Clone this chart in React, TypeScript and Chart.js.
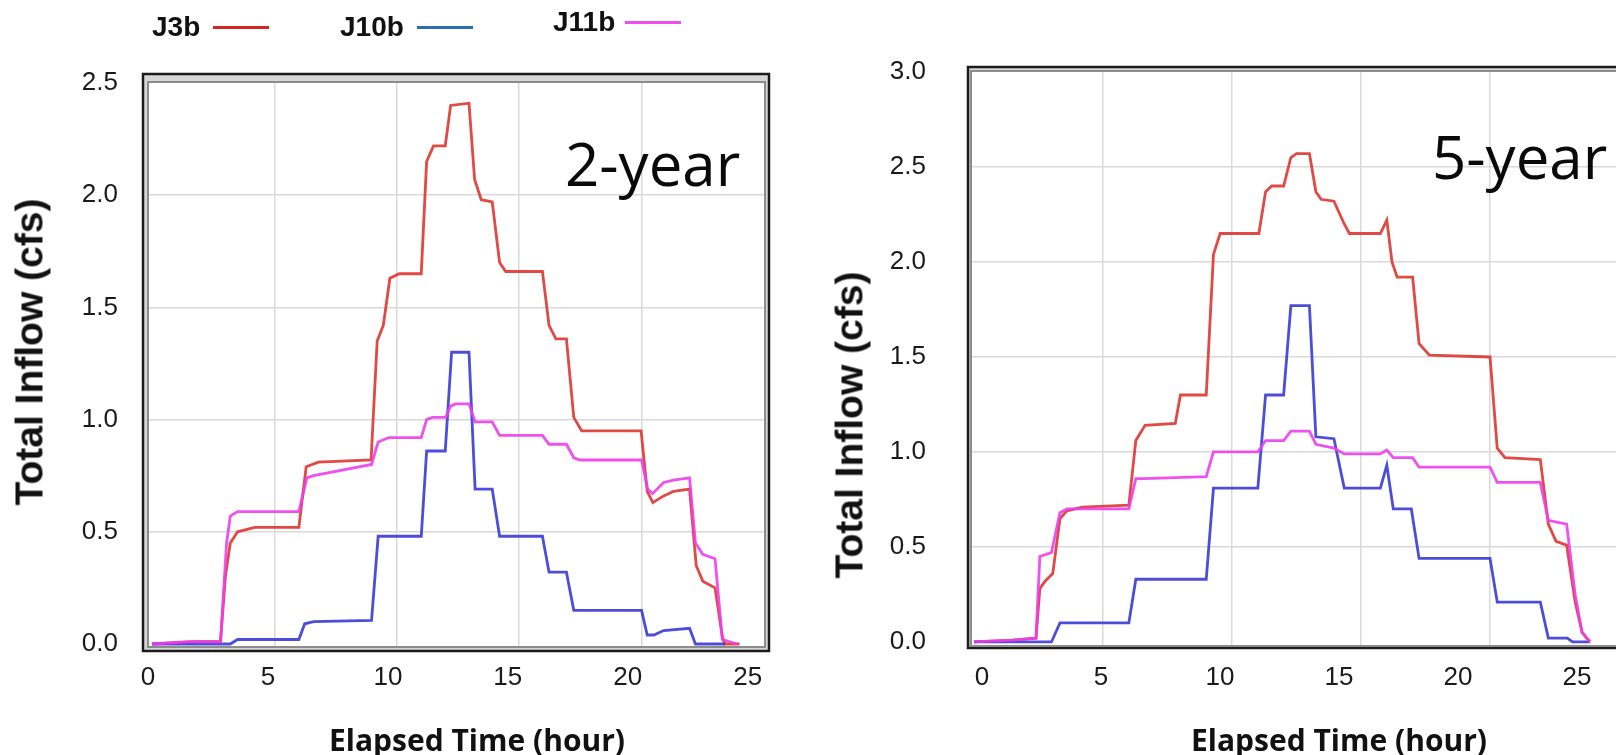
import React, { useEffect, useRef } from "react";
import { Chart, registerables } from "chart.js";

Chart.register(...registerables);

// ---------- 2-year event (hours / cfs) ----------
const t2J3b = [0, 1.8, 2.8, 3.0, 3.2, 3.5, 4.2, 6.0, 6.3, 6.8, 8.95, 9.2, 9.45, 9.72, 10.1, 11.0, 11.22, 11.5, 11.98, 12.2, 12.95, 13.18, 13.45, 13.9, 14.2, 14.45, 15.95, 16.22, 16.5, 16.93, 17.23, 17.55, 19.98, 20.23, 20.46, 20.9, 21.3, 21.96, 22.23, 22.5, 23.0, 23.3, 23.4, 24.0];
const q2J3b = [0, 0.01, 0.01, 0.3, 0.45, 0.5, 0.52, 0.52, 0.79, 0.81, 0.82, 1.35, 1.42, 1.63, 1.65, 1.65, 2.15, 2.22, 2.22, 2.4, 2.41, 2.07, 1.98, 1.97, 1.7, 1.66, 1.66, 1.42, 1.36, 1.36, 1.01, 0.95, 0.95, 0.68, 0.63, 0.66, 0.68, 0.69, 0.35, 0.28, 0.25, 0.03, 0, 0];

const t2J10b = [0, 3.2, 3.5, 6.0, 6.24, 6.6, 8.97, 9.24, 11.0, 11.22, 11.98, 12.24, 12.95, 13.2, 13.9, 14.2, 15.95, 16.22, 16.93, 17.23, 20.0, 20.23, 20.5, 20.9, 21.96, 22.2, 23.4];
const q2J10b = [0, 0, 0.02, 0.02, 0.09, 0.1, 0.105, 0.48, 0.48, 0.86, 0.86, 1.3, 1.3, 0.69, 0.69, 0.48, 0.48, 0.32, 0.32, 0.15, 0.15, 0.04, 0.04, 0.06, 0.07, 0, 0];

const t2J11b = [0, 1.5, 2.8, 3.05, 3.2, 3.5, 6.0, 6.33, 6.6, 8.97, 9.24, 9.68, 11.0, 11.22, 11.45, 12.0, 12.2, 12.4, 12.95, 13.2, 13.9, 14.2, 15.95, 16.22, 16.93, 17.23, 17.5, 20.0, 20.25, 20.45, 20.9, 21.3, 21.96, 22.2, 22.5, 23.0, 23.3, 23.9];
const q2J11b = [0, 0.01, 0.01, 0.45, 0.57, 0.59, 0.59, 0.74, 0.75, 0.8, 0.9, 0.92, 0.92, 1.0, 1.01, 1.01, 1.06, 1.07, 1.07, 0.99, 0.99, 0.93, 0.93, 0.89, 0.89, 0.83, 0.82, 0.82, 0.69, 0.67, 0.72, 0.73, 0.74, 0.45, 0.4, 0.38, 0.02, 0];

// ---------- 5-year event (hours / cfs) ----------
const t5J3b = [0, 1.5, 2.4, 2.55, 2.75, 3.05, 3.33, 3.6, 4.2, 6.0, 6.27, 6.63, 7.8, 8.0, 9.0, 9.28, 9.54, 11.04, 11.3, 11.54, 12.0, 12.28, 12.5, 13.0, 13.25, 13.45, 13.95, 14.35, 14.55, 15.75, 16.0, 16.2, 16.4, 17.0, 17.25, 17.65, 20.0, 20.28, 20.58, 21.95, 22.26, 22.56, 22.97, 23.3, 23.57, 23.87];
const q5J3b = [0, 0.01, 0.02, 0.28, 0.32, 0.36, 0.65, 0.69, 0.71, 0.72, 1.06, 1.14, 1.15, 1.3, 1.3, 2.04, 2.15, 2.15, 2.37, 2.4, 2.4, 2.55, 2.57, 2.57, 2.37, 2.33, 2.32, 2.2, 2.15, 2.15, 2.22, 2.0, 1.92, 1.92, 1.57, 1.51, 1.5, 1.02, 0.97, 0.96, 0.62, 0.53, 0.51, 0.21, 0.05, 0];

const t5J10b = [0, 3.0, 3.33, 6.0, 6.27, 9.0, 9.28, 11.0, 11.3, 12.0, 12.28, 13.0, 13.25, 13.95, 14.35, 15.75, 16.0, 16.25, 16.95, 17.25, 20.0, 20.28, 21.95, 22.26, 23.0, 23.2, 23.87];
const q5J10b = [0, 0, 0.1, 0.1, 0.33, 0.33, 0.81, 0.81, 1.3, 1.3, 1.77, 1.77, 1.08, 1.07, 0.81, 0.81, 0.93, 0.7, 0.7, 0.44, 0.44, 0.21, 0.21, 0.02, 0.02, 0, 0];

const t5J11b = [0, 1.5, 2.4, 2.55, 3.0, 3.33, 3.6, 6.0, 6.27, 6.6, 9.0, 9.28, 11.0, 11.3, 12.0, 12.28, 13.0, 13.25, 13.95, 14.35, 15.75, 16.0, 16.25, 17.0, 17.25, 20.0, 20.28, 21.95, 22.26, 22.97, 23.3, 23.57, 23.87];
const q5J11b = [0, 0.01, 0.02, 0.45, 0.47, 0.68, 0.7, 0.7, 0.86, 0.86, 0.87, 1.0, 1.0, 1.06, 1.06, 1.11, 1.11, 1.04, 1.02, 0.99, 0.99, 1.01, 0.97, 0.97, 0.92, 0.92, 0.84, 0.84, 0.64, 0.62, 0.25, 0.05, 0];

// ---------- ticks / labels ----------
const xTicks = [0, 5, 10, 15, 20, 25];
const yTicks2 = [0, 0.5, 1.0, 1.5, 2.0, 2.5];
const yTicks5 = [0, 0.5, 1.0, 1.5, 2.0, 2.5, 3.0];
const seriesNames = ["J3b", "J10b", "J11b"];
const panelTitles = ["2-year", "5-year"];
const xTitle = "Elapsed Time (hour)";
const yTitle = "Total Inflow (cfs)";

const lineColors = ["rgba(222,58,52,0.92)", "rgba(52,52,212,0.88)", "rgba(236,62,236,0.9)"];
const legendColors = ["#d42424", "#2b6fb3", "#f04cf0"];

const framePlugin = {
  id: "frame",
  beforeDatasetsDraw(chart: any, _args: any, opts: any) {
    const { ctx, chartArea: a } = chart;
    const o = opts.outer;
    const x0 = a.left - o.l;
    const y0 = a.top - o.t;
    const x1 = a.right + o.r;
    const y1 = a.bottom + o.b;
    ctx.save();
    ctx.fillStyle = "#d6d6d6";
    ctx.beginPath();
    ctx.rect(x0, y0, x1 - x0, y1 - y0);
    ctx.rect(a.left, a.top, a.right - a.left, a.bottom - a.top);
    ctx.fill("evenodd");
    ctx.lineWidth = 2.5;
    ctx.strokeStyle = "#1c1c1c";
    ctx.strokeRect(x0 + 1, y0 + 1, x1 - x0 - 2, y1 - y0 - 2);
    ctx.lineWidth = 2;
    ctx.strokeStyle = "#8c8c8c";
    ctx.strokeRect(a.left - 1, a.top - 1, a.right - a.left + 2, a.bottom - a.top + 2);
    ctx.restore();
  },
};

const tickFont = { family: "'Liberation Sans', Arial, sans-serif", size: 26 };

type Series = { label: string; t: number[]; q: number[]; color: string; order: number };

type PanelProps = {
  pageLeft: number;
  width: number;
  series: Series[];
  xMin: number;
  xMax: number;
  labelMin: number;
  labelMax: number;
  yMin: number;
  yMax: number;
  yTicks: number[];
  yAxisW: number;
  padTop: number;
  padRight: number;
  xAxisH: number;
  yTickPad: number;
  xTickPad: number;
  frame: { l: number; t: number; r: number; b: number };
};

function FlowPanel(p: PanelProps) {
  const ref = useRef<HTMLCanvasElement | null>(null);
  useEffect(() => {
    if (!ref.current) return;
    const chart = new Chart(ref.current, {
      type: "line",
      data: {
        datasets: p.series.map((s) => ({
          label: s.label,
          data: s.t.map((t, i) => ({ x: t, y: s.q[i] })),
          borderColor: s.color,
          backgroundColor: s.color,
          borderWidth: 2.8,
          pointRadius: 0,
          tension: 0,
          fill: false,
          order: s.order,
          xAxisID: "x",
          yAxisID: "y",
        })),
      },
      options: {
        animation: false,
        responsive: false,
        maintainAspectRatio: false,
        layout: { padding: { left: 0, top: p.padTop, right: p.padRight, bottom: 0 } },
        plugins: {
          legend: { display: false },
          tooltip: { enabled: false },
          frame: { outer: p.frame },
        } as any,
        scales: {
          x: {
            type: "linear",
            position: "bottom",
            min: p.xMin,
            max: p.xMax,
            afterBuildTicks: (s: any) => {
              s.ticks = xTicks.map((v) => ({ value: v }));
            },
            afterFit: (s: any) => {
              s.height = 0;
            },
            grid: {
              drawTicks: false,
              lineWidth: 1.5,
              color: (c: any) =>
                c.tick && (c.tick.value === xTicks[0] || c.tick.value === xTicks[xTicks.length - 1])
                  ? "rgba(0,0,0,0)"
                  : "#d9d9d9",
            },
            border: { display: false },
            ticks: { display: false },
          },
          xLabels: {
            type: "linear",
            position: "bottom",
            min: p.labelMin,
            max: p.labelMax,
            afterBuildTicks: (s: any) => {
              s.ticks = xTicks.map((v) => ({ value: v }));
            },
            afterFit: (s: any) => {
              s.height = p.xAxisH;
            },
            grid: { display: false, drawTicks: false },
            border: { display: false },
            ticks: {
              padding: p.xTickPad,
              font: tickFont,
              color: "#1a1a1a",
              maxRotation: 0,
              autoSkip: false,
              callback: (v: any) => String(v),
            },
          },
          y: {
            type: "linear",
            min: p.yMin,
            max: p.yMax,
            afterBuildTicks: (s: any) => {
              s.ticks = p.yTicks.map((v) => ({ value: v }));
            },
            afterFit: (s: any) => {
              s.width = p.yAxisW;
            },
            grid: {
              drawTicks: false,
              lineWidth: 1.5,
              color: (c: any) =>
                c.tick && (c.tick.value === p.yTicks[0] || c.tick.value === p.yTicks[p.yTicks.length - 1])
                  ? "rgba(0,0,0,0)"
                  : "#d9d9d9",
            },
            border: { display: false },
            ticks: {
              padding: p.yTickPad,
              font: tickFont,
              color: "#1a1a1a",
              autoSkip: false,
              callback: (v: any) => Number(v).toFixed(1),
            },
          },
        } as any,
      },
      plugins: [framePlugin as any],
    });
    return () => chart.destroy();
  }, []);
  return (
    <canvas
      ref={ref}
      width={p.width}
      height={755}
      style={{ position: "absolute", left: p.pageLeft, top: 0, width: p.width, height: 755 }}
    />
  );
}

const legendFont: React.CSSProperties = {
  position: "absolute",
  fontFamily: "'Liberation Sans', Arial, sans-serif",
  fontWeight: 700,
  fontSize: 28,
  lineHeight: "28px",
  color: "#111",
  whiteSpace: "nowrap",
};

function LegendItem({ name, color, textLeft, lineLeft, cy }: { name: string; color: string; textLeft: number; lineLeft: number; cy: number }) {
  return (
    <>
      <div style={{ ...legendFont, left: textLeft, top: cy - 14 }}>{name}</div>
      <div style={{ position: "absolute", left: lineLeft, top: cy - 1.5, width: 56, height: 3, background: color }} />
    </>
  );
}

const axisTitleY: React.CSSProperties = {
  position: "absolute",
  fontFamily: "'Liberation Sans', Arial, sans-serif",
  fontWeight: 700,
  fontSize: 39,
  lineHeight: "39px",
  color: "#111",
  whiteSpace: "nowrap",
  transform: "translate(-50%, -50%) rotate(-90deg)",
};

const axisTitleX: React.CSSProperties = {
  position: "absolute",
  fontFamily: "'Open Sans', 'Noto Sans', sans-serif",
  fontWeight: 700,
  fontSize: 30,
  lineHeight: "30px",
  color: "#111",
  whiteSpace: "nowrap",
  transform: "translate(-50%, -50%)",
};

const panelTitleStyle: React.CSSProperties = {
  position: "absolute",
  fontFamily: "'Open Sans', 'Noto Sans', sans-serif",
  fontWeight: 400,
  fontSize: 60,
  lineHeight: "60px",
  color: "#0a0a0a",
  whiteSpace: "nowrap",
};

export default function App() {
  const series2: Series[] = [
    { label: seriesNames[0], t: t2J3b, q: q2J3b, color: lineColors[0], order: 2 },
    { label: seriesNames[1], t: t2J10b, q: q2J10b, color: lineColors[1], order: 1 },
    { label: seriesNames[2], t: t2J11b, q: q2J11b, color: lineColors[2], order: 0 },
  ];
  const series5: Series[] = [
    { label: seriesNames[0], t: t5J3b, q: q5J3b, color: lineColors[0], order: 2 },
    { label: seriesNames[1], t: t5J10b, q: q5J10b, color: lineColors[1], order: 1 },
    { label: seriesNames[2], t: t5J11b, q: q5J11b, color: lineColors[2], order: 0 },
  ];
  return (
    <div style={{ position: "fixed", left: 0, top: 0, width: 1616, height: 755, overflow: "hidden", background: "#fff" }}>
      <FlowPanel
        pageLeft={0}
        width={800}
        series={series2}
        xMin={-0.12}
        xMax={25}
        labelMin={0.04}
        labelMax={25.68}
        yMin={-0.009}
        yMax={2.5}
        yTicks={yTicks2}
        yAxisW={149}
        padTop={83}
        padRight={36}
        xAxisH={109}
        yTickPad={31}
        xTickPad={16}
        frame={{ l: 7, t: 10, r: 6, b: 6 }}
      />
      <FlowPanel
        pageLeft={800}
        width={860}
        series={series5}
        xMin={-0.08}
        xMax={25.31}
        labelMin={-0.42}
        labelMax={27.1}
        yMin={-0.016}
        yMax={3.0}
        yTicks={yTicks5}
        yAxisW={172}
        padTop={72}
        padRight={33}
        xAxisH={110}
        yTickPad={46}
        xTickPad={17}
        frame={{ l: 5, t: 6, r: 5, b: 4 }}
      />

      <LegendItem name={seriesNames[0]} color={legendColors[0]} textLeft={152} lineLeft={213} cy={27} />
      <LegendItem name={seriesNames[1]} color={legendColors[1]} textLeft={340} lineLeft={417} cy={27} />
      <LegendItem name={seriesNames[2]} color={legendColors[2]} textLeft={553} lineLeft={625} cy={22} />

      <div style={{ ...panelTitleStyle, left: 565, top: 133 }}>{panelTitles[0]}</div>
      <div style={{ ...panelTitleStyle, left: 1432, top: 126 }}>{panelTitles[1]}</div>

      <div style={{ ...axisTitleY, left: 29, top: 352 }}>{yTitle}</div>
      <div style={{ ...axisTitleY, left: 849, top: 425 }}>{yTitle}</div>

      <div style={{ ...axisTitleX, left: 477, top: 740 }}>{xTitle}</div>
      <div style={{ ...axisTitleX, left: 1339, top: 740 }}>{xTitle}</div>
    </div>
  );
}
